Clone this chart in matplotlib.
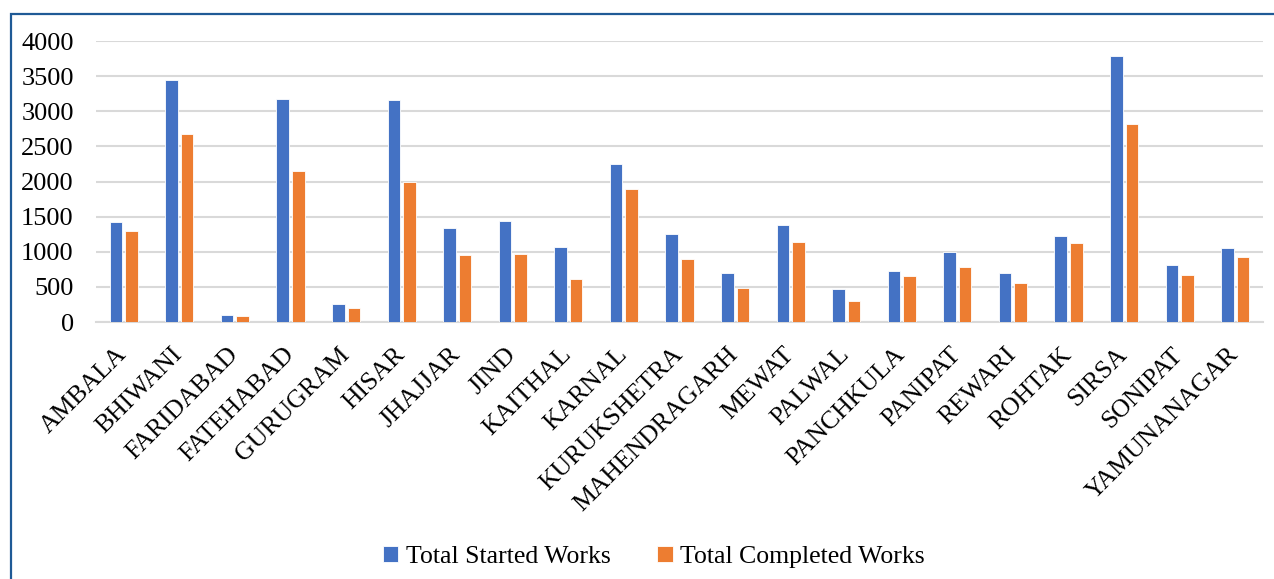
import matplotlib
matplotlib.use("Agg")
import matplotlib.pyplot as plt
import numpy as np
from matplotlib.patches import Rectangle

districts = ["AMBALA", "BHIWANI", "FARIDABAD", "FATEHABAD", "GURUGRAM", "HISAR",
             "JHAJJAR", "JIND", "KAITHAL", "KARNAL", "KURUKSHETRA", "MAHENDRAGARH",
             "MEWAT", "PALWAL", "PANCHKULA", "PANIPAT", "REWARI", "ROHTAK", "SIRSA",
             "SONIPAT", "YAMUNANAGAR"]
started = [1425, 3445, 100, 3180, 250, 3165, 1332, 1436, 1062, 2246, 1256, 697,
           1374, 464, 730, 1000, 701, 1223, 3782, 810, 1057]
completed = [1295, 2673, 80, 2156, 194, 1995, 953, 967, 611, 1891, 896, 483,
             1137, 294, 654, 787, 555, 1118, 2820, 668, 924]
yticks = [0, 500, 1000, 1500, 2000, 2500, 3000, 3500, 4000]

W, H = 1274, 579
fig = plt.figure(figsize=(W / 100, H / 100), dpi=100)
plt.rcParams["font.family"] = ["Liberation Serif", "DejaVu Serif"]

# outer chart frame (left and top edges visible)
fig.patches.append(Rectangle((11 / W, -0.1), 1.2, (H - 14) / H + 0.1,
                             transform=fig.transFigure, fill=False,
                             edgecolor="#1f5a96", linewidth=1.6, zorder=0))

left, right, top, bottom = 96, 1263, 41, 322
ax = fig.add_axes([left / W, 1 - bottom / H, (right - left) / W, (bottom - top) / H])

x = np.arange(len(districts))
bw = 0.225
off = 0.14
ax.bar(x - off, started, bw, color="#4472C4", edgecolor="white", linewidth=0.6,
       label="Total Started Works", zorder=3)
ax.bar(x + off, completed, bw, color="#ED7D31", edgecolor="white", linewidth=0.6,
       label="Total Completed Works", zorder=3)

ax.set_xlim(-0.5, len(districts) - 0.5)
ax.set_ylim(0, 4000)
ax.set_yticks(yticks)
ax.set_yticklabels([str(v) for v in yticks], fontsize=19)
ax.yaxis.grid(True, color="#d9d9d9", linewidth=1.5, zorder=0)
ax.set_axisbelow(True)
for s in ["left", "right", "top"]:
    ax.spines[s].set_visible(False)
ax.spines["bottom"].set_color("#d9d9d9")
ax.spines["bottom"].set_linewidth(1.5)
ax.tick_params(axis="y", length=0, pad=16)
ax.tick_params(axis="x", length=0, pad=21)
ax.set_xticks(x)
ax.set_xticklabels(districts, rotation=45, ha="right", va="center",
                   rotation_mode="anchor", fontsize=18.5)

handles, labels = ax.get_legend_handles_labels()
fig.legend(handles, labels, loc="center", bbox_to_anchor=(654 / W, 1 - 557 / H),
           ncol=2, frameon=False, fontsize=18.5, handlelength=0.6, handleheight=0.6,
           handletextpad=0.3, columnspacing=1.8)

fig.savefig("out.png", dpi=100)
